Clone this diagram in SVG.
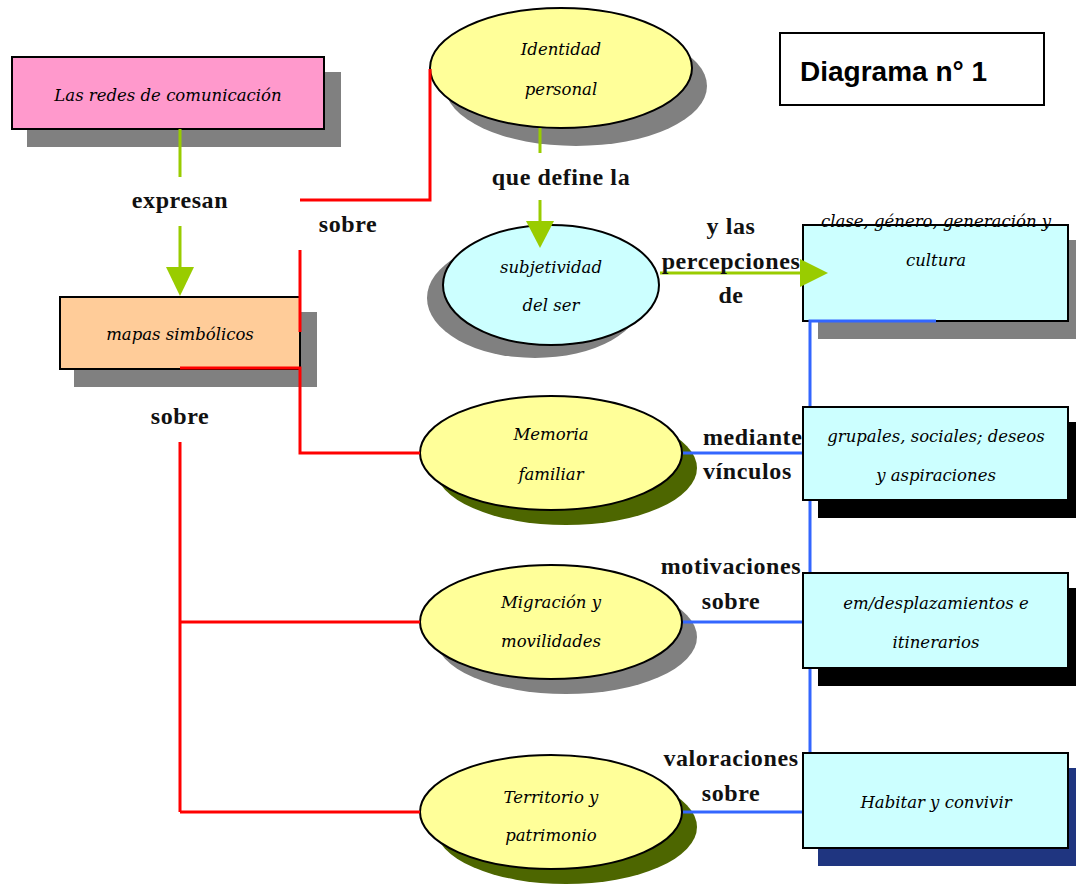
<svg xmlns="http://www.w3.org/2000/svg" width="1076" height="884" viewBox="0 0 1076 884">
<style>
.box{stroke:#000;stroke-width:2}
.ell{stroke:#000;stroke-width:2}
.nt{font-family:"DejaVu Serif","Liberation Serif",serif;font-style:italic;font-size:16.5px;fill:#000;text-anchor:middle}
.lb{font-family:"Liberation Serif",serif;font-weight:bold;font-size:24px;letter-spacing:0.6px;fill:#111;text-anchor:middle}
.lbs{font-family:"Liberation Serif",serif;font-weight:bold;font-size:24px;letter-spacing:0.6px;fill:#111;text-anchor:start}
.red{stroke:#ff0000;stroke-width:3;fill:none}
.grn{stroke:#99cc00;stroke-width:3;fill:none}
.blu{stroke:#3366ff;stroke-width:3;fill:none}
.ah{fill:#99cc00}
</style>
<rect width="1076" height="884" fill="#fff"/>

<g id="n-redes">
<rect x="27" y="72" width="314" height="75" fill="#808080"/>
<rect class="box" x="12" y="57" width="312" height="72" fill="#ff99cc"/>
<text class="nt" x="168" y="101">Las redes de comunicación</text>
</g>
<g id="n-mapas">
<rect x="74" y="312" width="243" height="75" fill="#808080"/>
<rect class="box" x="60" y="297" width="240" height="72" fill="#ffcc99"/>
<text class="nt" x="180" y="340">mapas simbólicos</text>
</g>
<g id="n-clase">
<rect x="818" y="240" width="258" height="99" fill="#808080"/>
<rect class="box" x="803" y="225" width="265" height="96" fill="#ccffff"/>
<text class="nt" x="936" y="227">clase, género, generación y</text>
<text class="nt" x="936" y="266">cultura</text>
</g>
<g id="n-identidad">
<ellipse cx="576" cy="86" rx="131" ry="60" fill="#808080"/>
<ellipse class="ell" cx="561" cy="68" rx="131" ry="60" fill="#ffff99"/>
<text class="nt" x="561" y="55">Identidad</text>
<text class="nt" x="561" y="95">personal</text>
</g>
<g id="n-subjetividad">
<ellipse cx="535" cy="298" rx="108" ry="60" fill="#808080"/>
<ellipse class="ell" cx="551" cy="285" rx="108" ry="60" fill="#ccffff"/>
<text class="nt" x="551" y="273">subjetividad</text>
<text class="nt" x="551" y="311">del ser</text>
</g>
<g id="n-memoria">
<ellipse cx="566" cy="468" rx="131" ry="57" fill="#4d6600"/>
<ellipse class="ell" cx="551" cy="453" rx="131" ry="57" fill="#ffff99"/>
<text class="nt" x="551" y="440">Memoria</text>
<text class="nt" x="551" y="480">familiar</text>
</g>
<g id="n-migracion">
<ellipse cx="566" cy="637" rx="131" ry="57" fill="#808080"/>
<ellipse class="ell" cx="551" cy="622" rx="131" ry="57" fill="#ffff99"/>
<text class="nt" x="551" y="608">Migración y</text>
<text class="nt" x="551" y="647">movilidades</text>
</g>
<g id="n-territorio">
<ellipse cx="566" cy="827" rx="131" ry="57" fill="#4d6600"/>
<ellipse class="ell" cx="551" cy="812" rx="131" ry="57" fill="#ffff99"/>
<text class="nt" x="551" y="803">Territorio y</text>
<text class="nt" x="551" y="841">patrimonio</text>
</g>

<g id="connectors">
<line class="grn" x1="180" y1="129" x2="180" y2="177"/>
<line class="grn" x1="180" y1="226" x2="180" y2="270"/>
<polygon class="ah" points="166,267 194,267 180,296"/>
<line class="grn" x1="540" y1="128" x2="540" y2="153"/>
<line class="grn" x1="540" y1="200" x2="540" y2="224"/>
<polygon class="ah" points="526,221 554,221 540,248"/>
<line class="grn" x1="660" y1="273" x2="802" y2="273"/>
<polygon class="ah" points="800,259 800,287 828,273"/>
<polyline class="red" points="300,200 430,200 430,69"/>
<line class="red" x1="300" y1="250" x2="300" y2="332"/>
<polyline class="red" points="180,368 300,368 300,453 420,453"/>
<line class="red" x1="180" y1="442" x2="180" y2="812"/>
<line class="red" x1="180" y1="622" x2="420" y2="622"/>
<line class="red" x1="180" y1="812" x2="420" y2="812"/>
<polyline class="blu" points="936,321 810,321 810,760"/>
<line class="blu" x1="683" y1="453" x2="803" y2="453"/>
<line class="blu" x1="683" y1="622" x2="803" y2="622"/>
<line class="blu" x1="683" y1="812" x2="803" y2="812"/>
</g>

<g id="n-grupales">
<rect x="818" y="422" width="258" height="96" fill="#000"/>
<rect class="box" x="803" y="407" width="265" height="93" fill="#ccffff"/>
<text class="nt" x="936" y="442">grupales, sociales; deseos</text>
<text class="nt" x="936" y="481">y aspiraciones</text>
</g>
<g id="n-desplaz">
<rect x="818" y="588" width="258" height="98" fill="#000"/>
<rect class="box" x="803" y="573" width="265" height="95" fill="#ccffff"/>
<text class="nt" x="936" y="609">em/desplazamientos e</text>
<text class="nt" x="936" y="648">itinerarios</text>
</g>
<g id="n-habitar">
<rect x="818" y="768" width="258" height="98" fill="#1f3580"/>
<rect class="box" x="803" y="753" width="265" height="95" fill="#ccffff"/>
<text class="nt" x="936" y="808">Habitar y convivir</text>
</g>

<g id="labels">
<text class="lb" x="180" y="208">expresan</text>
<text class="lb" x="348" y="232">sobre</text>
<text class="lb" x="561" y="185">que define la</text>
<text class="lb" x="731" y="234">y las</text>
<text class="lb" x="731" y="269">percepciones</text>
<text class="lb" x="731" y="303">de</text>
<text class="lb" x="180" y="424">sobre</text>
<text class="lbs" x="703" y="445">mediante</text>
<text class="lbs" x="703" y="479">vínculos</text>
<text class="lb" x="731" y="574">motivaciones</text>
<text class="lb" x="731" y="609">sobre</text>
<text class="lb" x="731" y="766">valoraciones</text>
<text class="lb" x="731" y="801">sobre</text>
</g>

<g id="n-diagrama">
<rect x="780" y="33" width="264" height="72" fill="#fff" stroke="#000" stroke-width="2"/>
<text x="800" y="81" font-family="Liberation Sans, Arial, sans-serif" font-weight="bold" font-size="28" fill="#000">Diagrama n° 1</text>
</g>
</svg>
